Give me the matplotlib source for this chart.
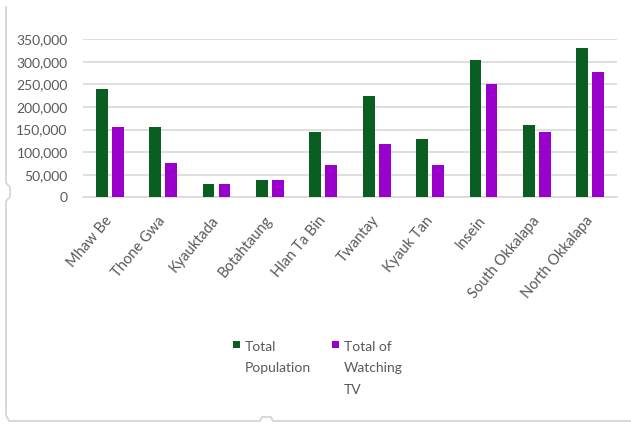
import numpy as np
import matplotlib
matplotlib.use("Agg")
import matplotlib.pyplot as plt
from matplotlib.patches import Rectangle
from matplotlib.lines import Line2D
from matplotlib.ticker import FuncFormatter

# Townships and their counts
townships = ["Mhaw Be", "Thone Gwa", "Kyauktada", "Botahtaung", "Hlan Ta Bin",
             "Twantay", "Kyauk Tan", "Insein", "South Okkalapa", "North Okkalapa"]
total_population = [241000, 156000, 29000, 39000, 145000,
                    224000, 129000, 304000, 161000, 331000]
watching_tv = [156000, 76000, 29000, 39000, 71000,
               118000, 71000, 251000, 145000, 278000]
series_names = ["Total\nPopulation", "Total of\nWatching\nTV"]
yticks = [0, 50000, 100000, 150000, 200000, 250000, 300000, 350000]

green = "#0b5e22"
purple = "#9900cc"
grey_text = "#595959"
grid_col = "#d9d9d9"

W, H = 631, 426
plt.rcParams["font.family"] = ["Lato", "DejaVu Sans"]
fig = plt.figure(figsize=(W / 100, H / 100), dpi=100)

# axes placed in pixel terms
x0, x1, ytop, ybot = 83, 617, 39.3, 197.3
ax = fig.add_axes([x0 / W, 1 - ybot / H, (x1 - x0) / W, (ybot - ytop) / H])

x = np.arange(len(townships))
bw = 0.22
ax.bar(x - 0.15, total_population, width=bw, color=green, zorder=3)
ax.bar(x + 0.15, watching_tv, width=bw, color=purple, zorder=3)

ax.set_xlim(-0.5, len(townships) - 0.5)
ax.set_ylim(0, 350000)
ax.set_yticks(yticks)
ax.yaxis.set_major_formatter(FuncFormatter(lambda v, p: f"{int(v):,}"))
ax.yaxis.grid(True, color=grid_col, linewidth=1.2, zorder=0)
for s in ["top", "right", "left"]:
    ax.spines[s].set_visible(False)
ax.spines["bottom"].set_color(grid_col)
ax.spines["bottom"].set_linewidth(1.2)
ax.tick_params(axis="y", length=0, pad=11, labelsize=10, labelcolor=grey_text)
ax.tick_params(axis="x", length=0, pad=15, labelsize=10.5, labelcolor=grey_text)
ax.set_xticks(x)
ax.set_xticklabels(townships, rotation=50, ha="right", va="center",
                   rotation_mode="anchor")

# legend drawn by hand: square marker at first line of each label
def px(xp, yp):
    return xp / W, 1 - yp / H

for (lx, color, name) in [(233, green, series_names[0]),
                          (332, purple, series_names[1])]:
    fx, fy = px(lx, 348)
    fig.patches.append(Rectangle((fx, fy), 7 / W, 7 / H, transform=fig.transFigure,
                                 facecolor=color, edgecolor="none"))
    tx, ty = px(lx + 12, 341)
    fig.text(tx, ty, name, ha="left", va="top", fontsize=10,
             color=grey_text, linespacing=1.95)

# light frame around the chart area
fx = [6, 6, 10, 10, 6, 6, 9, 260, 262, 271, 273, 631]
fy = [7, 183, 187, 197, 201, 415, 421, 421, 417, 417, 421, 421]
fig.lines.append(Line2D([v / W for v in fx], [1 - v / H for v in fy],
                        transform=fig.transFigure, color="#d6d6d6", linewidth=1.3))

fig.savefig("out.png", dpi=100)
